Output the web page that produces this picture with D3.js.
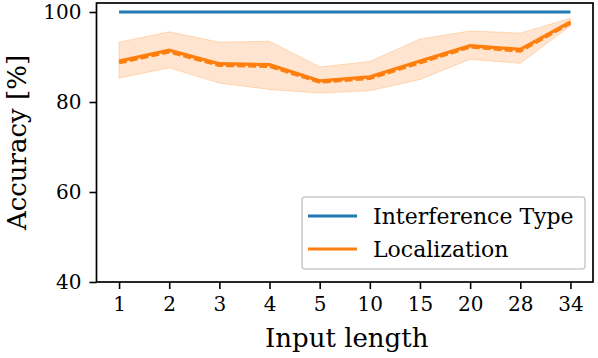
<!DOCTYPE html>
<html><head><meta charset="utf-8">
<script src="https://cdn.jsdelivr.net/npm/d3@7"></script>
<style>body{margin:0;background:#fff}svg{display:block}text{font-family:"DejaVu Serif",serif;fill:#000}</style>
</head><body>
<script>
const categories = ["1","2","3","4","5","10","15","20","28","34"];
const interference = [100,100,100,100,100,100,100,100,100,100];
const locMean = [89.1,91.5,88.5,88.3,84.7,85.6,89.1,92.5,91.7,97.8];
const locMedian = [88.7,91.1,88.1,87.9,84.4,85.2,88.7,92.2,91.3,97.5];
const locUpper = [93.3,95.6,93.3,93.5,87.8,89.0,94.0,95.8,95.3,98.6];
const locLower = [85.3,87.6,84.2,82.8,82.0,82.5,85.0,89.5,88.6,96.9];
const yTicks = [40,60,80,100];

const W=598,H=358, L=96.5,R=593,T=3,B=282;
const svg=d3.select("body").append("svg").attr("width",W).attr("height",H);
const x=d3.scaleLinear().domain([-0.45,categories.length-1+0.45]).range([L,R]);
const y=d3.scaleLinear().domain([40,102]).range([B,T]);
const idx=categories.map((d,i)=>i);

const area=d3.area().x(i=>x(i)).y0(i=>y(locLower[i])).y1(i=>y(locUpper[i]));
svg.append("path").datum(idx).attr("d",area).attr("fill","#ff7f0e").attr("fill-opacity",0.2)
  .attr("stroke","#ff7f0e").attr("stroke-opacity",0.25).attr("stroke-width",1);

const line=arr=>d3.line().x(i=>x(i)).y(i=>y(arr[i]));
svg.append("path").datum(idx).attr("d",line(interference)).attr("fill","none").attr("stroke","#1f77b4").attr("stroke-width",3.1);
svg.append("path").datum(idx).attr("d",line(interference.map(v=>v-0.25))).attr("fill","none").attr("stroke","#6aa5d4").attr("stroke-width",1).attr("stroke-dasharray","6,3").attr("opacity",0.6);
svg.append("path").datum(idx).attr("d",line(locMean)).attr("fill","none").attr("stroke","#ff7f0e").attr("stroke-width",3.3);
svg.append("path").datum(idx).attr("d",line(locMedian)).attr("fill","none").attr("stroke","#ff7f0e").attr("stroke-width",3).attr("stroke-dasharray","8,3");

// axes
const xa=svg.append("g").attr("transform",`translate(0,${B})`)
  .call(d3.axisBottom(x).tickValues(idx).tickFormat(i=>categories[i]).tickSize(7).tickPadding(6));
const ya=svg.append("g").attr("transform",`translate(${L},0)`)
  .call(d3.axisLeft(y).tickValues(yTicks).tickSize(7).tickPadding(8));
[xa,ya].forEach(g=>{g.select(".domain").remove();g.selectAll("line").attr("stroke","#000").attr("stroke-width",1.6);
  g.selectAll("text").style("font-family","DejaVu Serif").style("font-size","20px").attr("fill","#000");});
xa.selectAll("text").attr("dy","0.8em");
svg.append("rect").attr("x",L).attr("y",T).attr("width",R-L).attr("height",B-T)
  .attr("fill","none").attr("stroke","#000").attr("stroke-width",1.7);

svg.append("text").attr("x",(L+R)/2+2).attr("y",347).attr("text-anchor","middle").style("font-size","26px").text("Input length");
svg.append("text").attr("transform",`translate(26,${(T+B)/2}) rotate(-90)`).attr("text-anchor","middle").style("font-size","26px").text("Accuracy [%]");

// legend
const lg=svg.append("g");
lg.append("rect").attr("x",302).attr("y",197).attr("width",283).attr("height",72).attr("rx",3)
  .attr("fill","#fff").attr("fill-opacity",0.8).attr("stroke","#ccc").attr("stroke-width",1.6);
const items=[["Interference Type","#1f77b4",216],["Localization","#ff7f0e",249]];
items.forEach(([t,c,yy])=>{
  lg.append("line").attr("x1",308).attr("x2",357).attr("y1",yy).attr("y2",yy).attr("stroke",c).attr("stroke-width",3.1);
  lg.append("text").attr("x",373).attr("y",yy).attr("dy","0.35em").style("font-size","22px").text(t);
});
</script>
</body></html>
